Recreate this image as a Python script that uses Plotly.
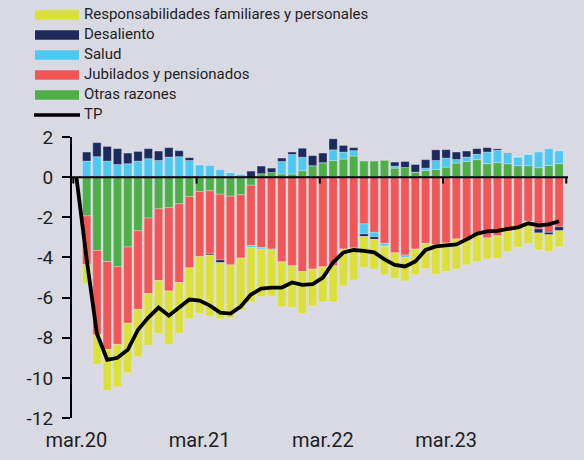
import plotly.graph_objects as go

# ---------------- data ----------------
meses = ["mar.20", "abr.20", "may.20", "jun.20", "jul.20", "ago.20", "sep.20", "oct.20", "nov.20", "dic.20",
         "ene.21", "feb.21", "mar.21", "abr.21", "may.21", "jun.21", "jul.21", "ago.21", "sep.21", "oct.21",
         "nov.21", "dic.21", "ene.22", "feb.22", "mar.22", "abr.22", "may.22", "jun.22", "jul.22", "ago.22",
         "sep.22", "oct.22", "nov.22", "dic.22", "ene.23", "feb.23", "mar.23", "abr.23", "may.23", "jun.23",
         "jul.23", "ago.23", "sep.23", "oct.23", "nov.23", "dic.23", "ene.24", "feb.24"]
bar_meses = meses[1:]

otras = [-1.93, -3.65, -4.20, -4.46, -3.48, -2.67, -2.04, -1.58, -1.52, -1.33, -0.97, -0.71, -0.68, -0.85,
         -0.95, -0.88, -0.40, 0.17, 0.23, 0.16, 0.16, 0.32, 0.57, 0.72, 0.83, 0.90, 1.05, 0.80, 0.80,
         0.85, 0.45, 0.48, 0.25, 0.33, 0.38, 0.50, 0.70, 0.78, 0.87, 0.67, 0.72, 0.67, 0.57, 0.57, 0.47,
         0.58, 0.67]
jubilados = [-2.42, -4.20, -4.38, -3.87, -3.80, -3.92, -3.76, -3.57, -4.15, -3.92, -3.55, -3.25, -3.15, -3.27,
             -3.42, -3.15, -3.00, -3.50, -3.58, -4.22, -4.42, -4.70, -4.58, -4.47, -4.42, -3.58, -3.53, -2.33,
             -2.75, -3.30, -3.77, -3.88, -3.58, -3.30, -3.37, -3.28, -3.08, -3.17, -2.87, -3.03, -2.92, -2.70,
             -2.58, -2.20, -2.58, -2.75, -2.47]
salud = [0.80, 1.02, 0.80, 0.63, 0.67, 0.80, 0.92, 0.83, 1.00, 1.02, 0.83, 0.62, 0.58, 0.37, 0.23, 0.15,
         -0.10, -0.08, -0.05, 0.62, 0.97, 0.67, 0.00, 0.00, 0.53, 0.35, 0.27, -0.50, -0.22, -0.13, 0.10,
         -0.12, 0.00, 0.12, 0.45, 0.45, 0.18, 0.22, 0.27, 0.58, 0.62, 0.50, 0.43, 0.57, 0.78, 0.83, 0.63]
desaliento = [0.45, 0.70, 0.73, 0.79, 0.53, 0.48, 0.50, 0.47, 0.47, 0.30, 0.14, 0.00, -0.06, -0.14, 0.00,
              0.00, 0.30, 0.38, 0.22, 0.17, 0.12, 0.45, 0.50, 0.48, 0.55, 0.33, 0.15, -0.13, -0.13, 0.00,
              0.20, 0.30, 0.38, 0.42, 0.53, 0.42, 0.37, 0.30, 0.28, 0.22, 0.07, 0.03, 0.00, 0.00, -0.20,
              -0.12, -0.20]
responsabilidades = [-0.97, -1.47, -2.05, -2.12, -2.47, -2.36, -2.58, -2.63, -2.66, -2.52, -2.53, -2.82, -3.03,
                     -2.80, -2.65, -2.59, -2.72, -2.37, -2.30, -2.24, -2.08, -2.10, -1.84, -1.75, -1.80, -1.84,
                     -1.59, -1.54, -1.48, -1.43, -1.27, -1.17, -1.28, -1.25, -1.47, -1.42, -1.50, -1.20, -1.33,
                     -1.05, -1.12, -1.00, -0.92, -1.10, -0.85, -0.83, -0.80]
tp = [0.00, -4.10, -7.80, -9.10, -9.00, -8.60, -7.60, -7.00, -6.50, -6.90, -6.50, -6.10, -6.15, -6.40, -6.75,
      -6.80, -6.45, -5.85, -5.55, -5.50, -5.50, -5.25, -5.37, -5.33, -5.00, -4.25, -3.75, -3.63, -3.67, -3.75,
      -4.10, -4.37, -4.45, -4.20, -3.63, -3.45, -3.40, -3.35, -3.10, -2.82, -2.70, -2.68, -2.58, -2.50, -2.30,
      -2.40, -2.35, -2.20]

etiquetas_x = ["mar.20", "mar.21", "mar.22", "mar.23"]
y_ticks = [2, 0, -2, -4, -6, -8, -10, -12]

# ---------------- styles ----------------
BG = "#D9D9E4"
C_YEL = "#DCE03A"
C_NAVY = "#1C2A5C"
C_LB = "#4CC8F1"
C_RED = "#F15757"
C_GRN = "#4EAE48"
FONT = "Roboto, sans-serif"
TXT = "#1E1E1E"

idx = {m: i for i, m in enumerate(meses)}
xb = [idx[m] for m in bar_meses]
xl = [idx[m] for m in meses]

fig = go.Figure()
outline = dict(width=0.6, color="rgba(240,240,250,0.55)")
for name, vals, col in [("Otras razones", otras, C_GRN),
                        ("Jubilados y pensionados", jubilados, C_RED),
                        ("Salud", salud, C_LB),
                        ("Desaliento", desaliento, C_NAVY),
                        ("Responsabilidades familiares y personales", responsabilidades, C_YEL)]:
    fig.add_trace(go.Bar(x=xb, y=vals, name=name, marker=dict(color=col, line=outline),
                         showlegend=False))
fig.add_trace(go.Scatter(x=xl, y=tp, name="TP", mode="lines",
                         line=dict(color="black", width=3.8), showlegend=False))

X0, X1 = -0.43, 47.87
L, R, T, B = 72, 16, 137, 42
W, H = 584, 460
pw, ph = W - L - R, H - T - B


def px(x):
    return (x - L) / pw


def py(y):
    return (H - B - y) / ph


shapes = []
# zero line
shapes.append(dict(type="line", xref="paper", yref="y", x0=0, x1=1, y0=0, y1=0,
                   line=dict(color="black", width=2), layer="above"))
# tick marks on zero line
for k in range(5):
    xv = idx["mar.20"] + 12 * k - 0.3
    shapes.append(dict(type="line", xref="x", yref="y", x0=xv, x1=xv, y0=0, y1=-0.32,
                       line=dict(color="black", width=2), layer="above"))

# custom legend
leg_items = [("Responsabilidades familiares y personales", C_YEL, "bar"),
             ("Desaliento", C_NAVY, "bar"),
             ("Salud", C_LB, "bar"),
             ("Jubilados y pensionados", C_RED, "bar"),
             ("Otras razones", C_GRN, "bar"),
             ("TP", "black", "line")]
annotations = []
for i, (txt, col, kind) in enumerate(leg_items):
    yc = 15 + 20 * i
    if kind == "bar":
        shapes.append(dict(type="rect", xref="paper", yref="paper", x0=px(35), x1=px(79),
                           y0=py(yc - 4.7), y1=py(yc + 4.7), fillcolor=col, line=dict(width=0)))
    else:
        shapes.append(dict(type="line", xref="paper", yref="paper", x0=px(34), x1=px(80),
                           y0=py(yc), y1=py(yc), line=dict(color=col, width=3.6)))
    annotations.append(dict(text=txt, xref="paper", yref="paper", x=px(82), y=py(yc - 1),
                            xanchor="left", yanchor="middle", showarrow=False,
                            font=dict(family=FONT, size=15, color=TXT)))

fig.update_layout(
    width=W, height=H,
    margin=dict(l=L, r=R, t=T, b=B, pad=0, autoexpand=False),
    paper_bgcolor=BG, plot_bgcolor=BG,
    barmode="relative", bargap=0.19,
    shapes=shapes, annotations=annotations,
    font=dict(family=FONT, color=TXT),
    xaxis=dict(range=[X0, X1], tickvals=[idx[m] for m in etiquetas_x], ticktext=etiquetas_x,
               ticks="", showline=False, showgrid=False, zeroline=False, automargin=False,
               tickfont=dict(size=20, family=FONT, color=TXT), ticklabelstandoff=8),
    yaxis=dict(range=[-12, 2], tickvals=y_ticks, ticktext=[str(v) for v in y_ticks],
               ticks="outside", ticklen=8, tickwidth=2, tickcolor="black", automargin=False,
               showline=True, linecolor="black", linewidth=2, showgrid=False, zeroline=False,
               tickfont=dict(size=19, family=FONT, color=TXT), ticklabelstandoff=5),
)

fig.write_html("out.html", config={"displayModeBar": False},
               post_script="document.body.style.margin='0';")
